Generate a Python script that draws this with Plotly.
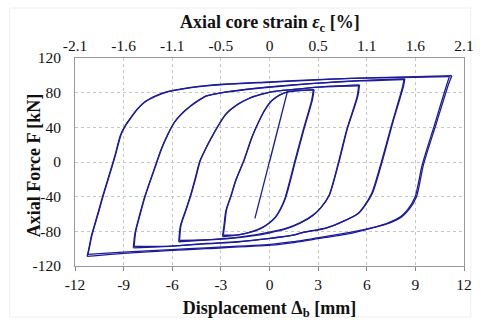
import plotly.graph_objects as go

# Displacement (mm) / axial force (kN)
elastic_x = [0.0, 1.1, -0.9]
elastic_f = [0, 81, -65]

loop3_x = [-2.9, -2.8, -2.7, -2.4, -2.1, -1.6, -1.1, -0.7, -0.3, 0.1, 0.6, 1.1, 1.8, 2.75,
           2.65, 2.1, 1.6, 1.0, 0.7, 0.4, 0.0, -0.5, -1.2, -1.9, -2.9]
loop3_f = [-86, -72, -57, -40, -22, 1, 28, 45, 60, 70, 77, 81, 82.5, 83.5,
           72, 36, 1, -41, -54, -63, -70, -76, -81, -84, -86]
loop3b_x = [-2.85, -2.75, -2.65, -2.35, -2.05, -1.55, -1.05, -0.65, -0.25, 0.15, 0.65, 1.15, 1.85, 2.7,
            2.6, 2.05, 1.55, 0.95, 0.65, 0.35, -0.05, -0.55, -1.25, -1.95, -2.85]
loop3b_f = [-84.5, -70, -55, -38, -20, 3, 30, 47, 61, 71, 77.5, 81, 82.5, 83,
            71, 35, 0, -42, -55, -64, -71, -77, -81.5, -84, -84.5]

loop6_x = [-5.6, -5.5, -5.2, -4.9, -4.6, -4.3, -3.9, -3.5, -3.1, -2.7, -2.0, -1.3, -0.5, 0.1, 1.3, 3.0, 5.55,
           5.45, 4.8, 4.3, 3.7, 3.2, 2.7, 1.9, 1.1, 0.0, -0.9, -2.5, -4.0, -5.6]
loop6_f = [-92, -74, -57, -40, -20, 1, 17, 31, 44, 55, 66, 73, 78, 81, 83.5, 86.5, 89,
           76, 38, 1, -38, -52, -61, -70, -76, -81, -84, -88, -90, -92]
loop6b_x = [-5.55, -5.46, -5.16, -4.86, -4.56, -4.26, -3.86, -3.46, -3.06, -2.66, -1.96, -1.26, -0.46, 0.14, 1.35, 3.05, 5.5,
            5.4, 4.76, 4.26, 3.66, 3.16, 2.66, 1.86, 1.06, -0.04, -0.94, -2.54, -4.04, -5.55]
loop6b_f = [-90.5, -73, -56, -39, -19, 2, 18, 32, 45, 56, 66.5, 73.5, 78.5, 81, 83.5, 86.5, 88,
            75, 37, 0, -39, -53, -62, -71, -77, -82, -85, -88.5, -90, -90.5]

loop9_x = [-8.4, -8.3, -8.0, -7.7, -7.0, -6.7, -6.3, -5.9, -5.5, -4.9, -4.3, -3.9, -2.7, -1.0, 1.0, 3.0, 5.5, 8.35,
           8.26, 7.6, 6.9, 6.35, 5.9, 5.5, 4.6, 3.5, 2.1, 1.5, 0.0, -2.0, -3.9, -6.0, -8.4]
loop9_f = [-99, -82, -60, -40, -2, 14, 31, 45, 54, 64, 72, 76, 80.5, 84.5, 88, 91, 94, 96,
           87, 45, -3, -36, -50, -59, -68, -76, -81, -84, -88, -92, -94, -97, -99]
loop9b_x = [-8.35, -8.26, -7.96, -7.66, -6.96, -6.66, -6.26, -5.86, -5.46, -4.86, -4.26, -3.86, -2.65, -0.95, 1.05, 3.05, 5.55, 8.3,
            8.2, 7.55, 6.85, 6.3, 5.85, 5.45, 4.55, 3.45, 2.05, 1.45, -0.05, -2.05, -3.95, -6.05, -8.35]
loop9b_f = [-97.5, -81, -59, -39, -1, 15, 32, 46, 55, 65, 72.5, 76.5, 81, 85, 88.5, 91, 93.5, 95.2,
            86, 44, -3.5, -36.5, -50.5, -59.5, -68.5, -76.5, -81.5, -84.5, -88.5, -92.5, -94.5, -97, -97.5]

loop12_x = [-11.25, -11.1, -11.0, -10.6, -10.3, -9.7, -9.5, -9.2, -8.9, -8.6, -8.2, -7.7, -7.0, -6.3, -5.3,
            -4.3, -2.7, 0.0, 2.1, 5.0, 8.0, 11.25,
            11.05, 10.3, 9.5, 9.07, 8.6, 8.17, 7.3, 6.35, 5.1, 3.5, 1.5, 0.1, -3.9, -6.0, -9.0, -11.25]
loop12_f = [-109, -96, -86, -60, -40, -3, 10, 31, 42, 50, 60, 69, 76, 81, 84.5,
            87, 89.6, 92, 94, 96.5, 98, 99.5,
            90, 45, -3, -40, -55, -63, -71, -76, -82, -87, -93, -96, -100, -102, -105.5, -109]
loop12b_x = [-11.2, -11.07, -10.96, -10.56, -10.26, -9.66, -9.46, -9.15, -8.85, -8.55, -8.15, -7.65, -6.95, -6.25,
             -5.25, -4.25, -2.6, 0.1, 2.2, 5.1, 8.1, 11.1,
             10.93, 10.2, 9.42, 8.99, 8.52, 8.1, 7.22, 6.28, 5.05, 3.45, 1.45, 0.05, -3.95, -6.05, -9.05, -11.2]
loop12b_f = [-106.5, -95, -85, -59, -39, -2, 11, 32, 43, 51, 61, 70, 77, 81.5,
             85, 87.5, 90, 92.5, 94.5, 96.5, 97.5, 98.5,
             89, 44, -3.5, -40, -55, -63, -71, -76, -81, -86, -92, -95, -99, -101, -104, -106.5]

x_ticks = [-12, -9, -6, -3, 0, 3, 6, 9, 12]
x_text = ["-12", "-9", "-6", "-3", "0", "3", "6", "9", "12"]
y_ticks = [-120, -80, -40, 0, 40, 80, 120]
y_text = ["-120", "-80", "-40", "0", "40", "80", "120"]
strain_vals = [-2.1, -1.575, -1.05, -0.525, 0, 0.525, 1.05, 1.575, 2.1]
strain_text = ["-2.1", "-1.6", "-1.1", "-0.5", "0", "0.5", "1.1", "1.6", "2.1"]

LINE = "#1c1c9a"
FONT = "Liberation Serif, Times New Roman, serif"
TXT = "#111111"

fig = go.Figure()


def add_branch(xs, fs):
    fig.add_trace(go.Scatter(x=xs, y=fs, mode="lines",
                             line=dict(color=LINE, width=1.3, shape="spline", smoothing=0.7),
                             showlegend=False, hoverinfo="skip"))


loops = [(loop12_x, loop12_f), (loop12b_x, loop12b_f), (loop9_x, loop9_f), (loop9b_x, loop9b_f),
         (loop6_x, loop6_f), (loop6b_x, loop6b_f), (loop3_x, loop3_f), (loop3b_x, loop3b_f)]
for xs, fs in loops:
    k = xs.index(max(xs))          # split at the sharp loading/unloading corner
    add_branch(xs[:k + 1], fs[:k + 1])
    add_branch(xs[k:], fs[k:])

fig.add_trace(go.Scatter(x=elastic_x, y=elastic_f, mode="lines", line=dict(color=LINE, width=1.3),
                         showlegend=False, hoverinfo="skip"))

# invisible trace to carry the top strain axis
fig.add_trace(go.Scatter(x=strain_vals, y=[0] * len(strain_vals), xaxis="x2", mode="markers",
                         marker=dict(opacity=0), showlegend=False, hoverinfo="skip"))

grid = dict(showgrid=True, gridcolor="#c4c4c4", griddash="dot", gridwidth=1, zeroline=False)
tickfont = dict(family=FONT, size=15.5, color=TXT)
titlefont = dict(family=FONT, size=18, color=TXT)

fig.update_layout(
    width=480, height=321,
    margin=dict(l=75, r=6, t=58, b=55),
    paper_bgcolor="white", plot_bgcolor="white",
    font=dict(family=FONT, size=16, color=TXT),
    xaxis=dict(range=[-12, 12], tickvals=x_ticks, ticktext=x_text, ticks="outside", ticklen=4,
               tickcolor="#888", tickfont=tickfont, ticklabeloverflow="allow",
               showline=True, linecolor="#999", linewidth=1,
               title=dict(text="<b>Displacement Δ<sub>b</sub> [mm]</b>", font=titlefont, standoff=9),
               **grid),
    xaxis2=dict(range=[-2.1, 2.1], overlaying="x", side="top", tickvals=strain_vals, ticktext=strain_text,
                tickfont=tickfont, ticklabeloverflow="allow",
                showline=True, linecolor="#999", linewidth=1, showgrid=False, zeroline=False, ticks=""),
    yaxis=dict(range=[-120, 120], tickvals=y_ticks, ticktext=y_text, tickfont=tickfont,
               showline=True, linecolor="#999", linewidth=1, mirror=True, ticklabelstandoff=10,
               **grid),
    annotations=[
        dict(text="<b>Axial Force F [kN]</b>", xref="paper", yref="paper", x=(33 - 75) / 399, y=0.48,
             xanchor="center", yanchor="middle", textangle=-90, showarrow=False, font=titlefont),
        dict(text="<b>Axial core strain <i>ε</i><sub>c</sub> [%]</b>", xref="paper", yref="paper",
             x=0.5, y=1 + (58 - 24) / 208, xanchor="center", yanchor="middle", showarrow=False,
             font=titlefont),
    ],
    shapes=[dict(type="rect", xref="paper", yref="paper", x0=(8 - 75) / 399, x1=(481 - 75) / 399,
                 y0=(266 - 317) / 208, y1=(266 - 8) / 208, line=dict(color="#eeeeee", width=1),
                 fillcolor="rgba(0,0,0,0)", layer="below")],
)
fig.write_html("out.html")
